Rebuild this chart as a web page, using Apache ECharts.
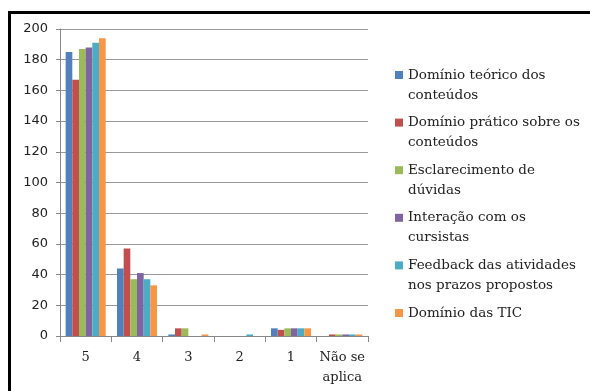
<!DOCTYPE html>
<html><head><meta charset="utf-8">
<script src="https://cdn.jsdelivr.net/npm/echarts@6/dist/echarts.min.js"></script>
<style>html,body{margin:0;padding:0;background:#fff}#c{width:590px;height:391px}</style>
</head><body><div id="c"></div>
<script>
const categories = ['5', '4', '3', '2', '1', 'Não se\naplica'];
const seriesNames = [
  'Domínio teórico dos\nconteúdos',
  'Domínio prático sobre os\nconteúdos',
  'Esclarecimento de\ndúvidas',
  'Interação com os\ncursistas',
  'Feedback das atividades\nnos prazos propostos',
  'Domínio das TIC'
];
const teorico   = [185, 44, 1, 0, 5, 0];
const pratico   = [167, 57, 5, 0, 4, 1];
const esclarec  = [187, 37, 5, 0, 5, 1];
const interacao = [188, 41, 0, 0, 5, 1];
const feedback  = [191, 37, 0, 1, 5, 1];
const tic       = [194, 33, 1, 0, 5, 1];
const yTicks = [0, 20, 40, 60, 80, 100, 120, 140, 160, 180, 200];

const colors = ['#4F81BD', '#C0504D', '#9BBB59', '#8064A2', '#4BACC6', '#F79646'];
const values = [teorico, pratico, esclarec, interacao, feedback, tic];

// legend marker: square aligned to the first text line (tall transparent bounding box)
const iconTop = 'path://M0,6L8,6L8,14L0,14Z M0,0L0,0 M0,40L0,40';

const chart = echarts.init(document.getElementById('c'));
chart.setOption({
  animation: false,
  color: colors,
  graphic: [{
    type: 'rect', shape: {x: 9.5, y: 12.5, width: 700, height: 500},
    style: {fill: 'none', stroke: '#000', lineWidth: 3}, silent: true, z: 100
  }],
  grid: {left: 60, top: 29, right: 222, bottom: 55},
  legend: {
    orient: 'vertical', left: 395, top: 65, padding: 0,
    itemWidth: 8, itemHeight: 40, itemGap: 7.6, icon: iconTop,
    textStyle: {fontFamily: 'DejaVu Serif', fontSize: 13.5, color: '#222', lineHeight: 20},
    formatter: n => n.includes('\n') ? n : n + '\n ',
    data: seriesNames
  },
  xAxis: {
    type: 'category', data: categories,
    axisLine: {lineStyle: {color: '#888'}},
    axisTick: {show: true, alignWithLabel: false, length: 6, lineStyle: {color: '#888'}},
    axisLabel: {fontFamily: 'DejaVu Serif', fontSize: 13, color: '#222', lineHeight: 20, margin: 12, interval: 0}
  },
  yAxis: {
    type: 'value', min: 0, max: 200, interval: 20,
    axisLine: {show: true, lineStyle: {color: '#888'}},
    axisTick: {show: true, length: 4, lineStyle: {color: '#888'}},
    splitLine: {lineStyle: {color: '#999'}},
    axisLabel: {fontFamily: 'DejaVu Sans', fontSize: 13, color: '#222', margin: 12,
      formatter: v => yTicks.includes(v) ? String(v) : ''}
  },
  series: seriesNames.map((n, i) => ({
    name: n, type: 'bar', data: values[i],
    barGap: '0%', barCategoryGap: '22%'
  }))
});
</script></body></html>
